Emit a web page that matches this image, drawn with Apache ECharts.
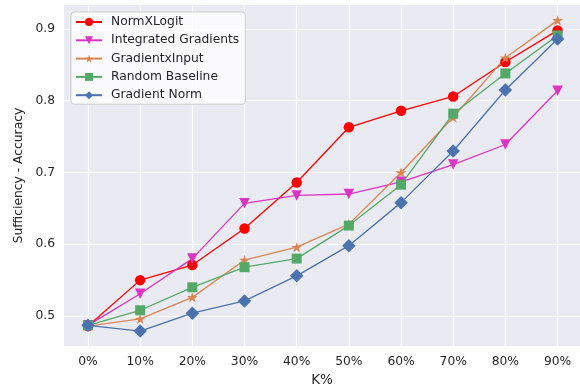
<!DOCTYPE html>
<html>
<head>
<meta charset="utf-8">
<script src="https://cdn.jsdelivr.net/npm/echarts@6/dist/echarts.min.js"></script>
<style>
html, body { margin: 0; padding: 0; background: #ffffff; }
#chart { width: 580px; height: 388px; }
</style>
</head>
<body>
<div id="chart"></div>
<script>
// K% steps on the x axis
const kLabels = ['0%', '10%', '20%', '30%', '40%', '50%', '60%', '70%', '80%', '90%'];
const yTicks = [0.5, 0.6, 0.7, 0.8, 0.9];

// Sufficiency accuracy per method
const normXLogit = [0.486, 0.550, 0.571, 0.622, 0.686, 0.763, 0.786, 0.806, 0.854, 0.898];
const integratedGradients = [0.487, 0.531, 0.580, 0.657, 0.668, 0.670, 0.687, 0.711, 0.739, 0.814];
const gradientXInput = [0.486, 0.496, 0.526, 0.578, 0.596, 0.628, 0.700, 0.777, 0.860, 0.912];
const randomBaseline = [0.487, 0.508, 0.540, 0.568, 0.580, 0.626, 0.683, 0.782, 0.838, 0.891];
const gradientNorm = [0.487, 0.479, 0.504, 0.521, 0.556, 0.598, 0.658, 0.730, 0.815, 0.886];

const starPath = 'path://M0,-10L2.245,-3.09L9.511,-3.09L3.633,1.18L5.878,8.09L0,3.82L-5.878,8.09L-3.633,1.18L-9.511,-3.09L-2.245,-3.09Z';

function pts(values) {
  return values.map((v, i) => [i, v]);
}

function makeSeries(name, values, color, symbol, size, extra) {
  return Object.assign({
    name: name,
    type: 'line',
    data: pts(values),
    symbol: symbol,
    symbolSize: size,
    showAllSymbol: true,
    lineStyle: { color: color, width: 1.3 },
    itemStyle: { color: color, borderWidth: 0 },
    emphasis: { disabled: true },
    animation: false
  }, extra || {});
}

const chart = echarts.init(document.getElementById('chart'), null, { renderer: 'canvas' });

const textColor = '#262626';
const fontFamily = 'DejaVu Sans';

chart.setOption({
  backgroundColor: '#ffffff',
  textStyle: { fontFamily: fontFamily },
  grid: {
    left: 64, top: 5, right: 0, bottom: 42,
    containLabel: false,
    outerBoundsMode: 'none',
    show: true,
    backgroundColor: '#eaeaf2',
    borderWidth: 0
  },
  legend: {
    orient: 'vertical',
    left: 71, top: 12,
    padding: [4, 6, 3, 4],
    itemWidth: 26, itemHeight: 10, itemGap: 6.3,
    backgroundColor: 'rgba(255,255,255,0.8)',
    borderColor: '#cccccc', borderWidth: 1, borderRadius: 3,
    textStyle: { fontFamily: fontFamily, fontSize: 12.3, color: textColor, padding: [0, 0, 0, 4] },
    data: ['NormXLogit', 'Integrated Gradients', 'GradientxInput', 'Random Baseline', 'Gradient Norm']
  },
  xAxis: {
    type: 'value',
    min: -0.46, max: 9.43,
    name: 'K%',
    nameLocation: 'middle',
    nameGap: 27,
    nameTextStyle: { fontFamily: fontFamily, fontSize: 13.5, color: textColor },
    axisLine: { show: false },
    axisTick: { show: false, customValues: kLabels.map((_, i) => i) },
    axisLabel: {
      customValues: kLabels.map((_, i) => i),
      formatter: v => kLabels[Math.round(v)],
      fontSize: 12.3, color: textColor, margin: 10
    },
    splitLine: { show: true, lineStyle: { color: '#ffffff', width: 1.2 } }
  },
  yAxis: {
    type: 'value',
    min: 0.4582, max: 0.9334,
    name: 'Sufficiency - Accuracy',
    nameLocation: 'middle',
    nameGap: 38,
    nameTextStyle: { fontFamily: fontFamily, fontSize: 12.3, color: textColor },
    axisLine: { show: false },
    axisTick: { show: false, customValues: yTicks },
    axisLabel: {
      customValues: yTicks,
      formatter: v => v.toFixed(1),
      fontSize: 12.3, color: textColor, margin: 9
    },
    splitLine: { show: true, lineStyle: { color: '#ffffff', width: 1.2 } }
  },
  series: [
    makeSeries('NormXLogit', normXLogit, '#ff0000', 'circle', 10.5),
    makeSeries('Integrated Gradients', integratedGradients, '#dc35c4', 'triangle', 10.5, { symbolRotate: 180 }),
    makeSeries('GradientxInput', gradientXInput, '#dd8452', starPath, 11, { symbolKeepAspect: true }),
    makeSeries('Random Baseline', randomBaseline, '#55a868', 'rect', 10),
    makeSeries('Gradient Norm', gradientNorm, '#4c72b0', 'diamond', 13.5)
  ]
});
</script>
</body>
</html>
